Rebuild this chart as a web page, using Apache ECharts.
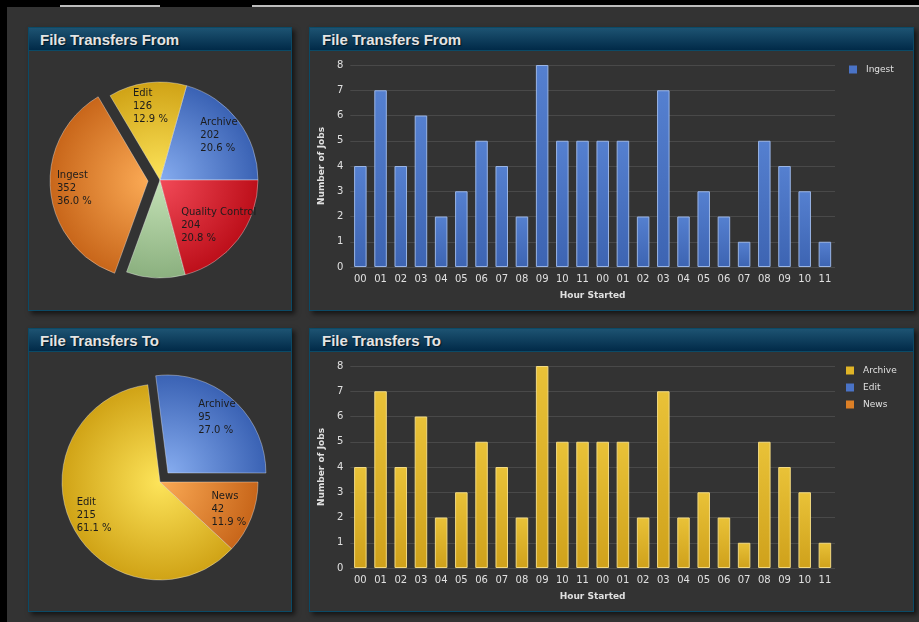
<!DOCTYPE html>
<html><head><meta charset="utf-8">
<script src="https://cdn.jsdelivr.net/npm/echarts@6/dist/echarts.min.js"></script>
<style>
html,body{margin:0;padding:0;background:#000;width:919px;height:622px;overflow:hidden;position:relative}
#bg{position:absolute;left:7px;top:7px;width:912px;height:615px;background:#333}
.strip{position:absolute;top:5px;height:2px;background:#bdbdbd}
.panel{position:absolute;border:1px solid #0b4a66;box-sizing:border-box;background:#333;box-shadow:3px 3px 5px rgba(0,0,0,0.6)}
.hdr{position:absolute;left:0;top:0;right:0;height:23px;background:linear-gradient(#1d5372,#012a48);border-bottom:1px solid #0b4a66;box-sizing:border-box;font:bold 15px 'Liberation Sans',Arial,sans-serif;color:#e4e4e4;line-height:23px;text-shadow:1px 1px 1px rgba(0,0,0,0.6)}
.chart{position:absolute}
</style></head>
<body>
<div id="bg"></div>
<div class="strip" style="left:60px;width:100px"></div>
<div class="strip" style="left:252px;width:667px"></div>

<div class="panel" style="left:28px;top:27px;width:264px;height:284px"><div class="hdr" style="padding-left:11px">File Transfers From</div></div>
<div class="panel" style="left:309px;top:27px;width:605px;height:284px"><div class="hdr" style="padding-left:12px">File Transfers From</div></div>
<div class="panel" style="left:28px;top:328px;width:264px;height:284px"><div class="hdr" style="padding-left:11px">File Transfers To</div></div>
<div class="panel" style="left:309px;top:328px;width:605px;height:284px"><div class="hdr" style="padding-left:12px">File Transfers To</div></div>

<div id="pie1" class="chart" style="left:28px;top:27px;width:264px;height:284px"></div>
<div id="bar1" class="chart" style="left:309px;top:27px;width:605px;height:284px"></div>
<div id="pie2" class="chart" style="left:28px;top:328px;width:264px;height:284px"></div>
<div id="bar2" class="chart" style="left:309px;top:328px;width:605px;height:284px"></div>

<script>
// ---- data ----
var hours = ['00','01','02','03','04','05','06','07','08','09','10','11','00','01','02','03','04','05','06','07','08','09','10','11'];
var yTicks = [0,1,2,3,4,5,6,7,8];
var fromNames = ['Archive','Edit','Ingest','Other','Quality Control'];
var fromValues = [202,126,352,95,204];
var toNames = ['Archive','Edit','News'];
var toValues = [95,215,42];
var ingestJobs = [4,7,4,6,2,3,5,4,2,8,5,5,5,5,2,7,2,3,2,1,5,4,3,1];
var archiveJobs = [4,7,4,6,2,3,5,4,2,8,5,5,5,5,2,7,2,3,2,1,5,4,3,1];
var editJobs = [];
var newsJobs = [];

// ---- styles ----
var FONT = 'DejaVu Sans';
var TXT = '#e0e0e0';
var pal = {
  blue:   ['#86acef','#3a62b4'],
  yellow: ['#fde45a','#d0a316'],
  orange: ['#fbaa55','#c8661a'],
  green:  ['#c4e2b6','#8bb07f'],
  red:    ['#f24a58','#bd0f1a']
};
var PIE_R = 98, PIE_CX = 132, OFFSET = 12, LABEL_RATIO = 0.755;

function radial(c, cx, cy){
  return {type:'radial', x:cx, y:cy, r:PIE_R, global:true,
    colorStops:[{offset:0,color:c[0]},{offset:1,color:c[1]}]};
}
function pieOption(names, values, colors, selectedIdx, hiddenIdx, cy){
  var total = values.reduce(function(a,b){return a+b;},0);
  var shapes = names.map(function(n,i){
    return {name:n, value:values[i], itemStyle:{color: radial(colors[i], PIE_CX, cy)}, selected: i===selectedIdx};
  });
  var labels = names.map(function(n,i){
    var d = {name:n, value:values[i]};
    if (hiddenIdx.indexOf(i)>=0) d.label = {show:false};
    return d;
  });
  return {
    animation:false,
    series:[{
      type:'pie', radius:PIE_R, center:[PIE_CX, cy],
      startAngle:0, clockwise:false,
      selectedMode:'single', selectedOffset:OFFSET,
      emphasis:{disabled:true}, select:{itemStyle:{borderColor:'rgba(255,255,255,0.35)',borderWidth:1}},
      itemStyle:{borderColor:'rgba(255,255,255,0.35)', borderWidth:1},
      label:{show:false}, labelLine:{show:false},
      data:shapes
    },{
      type:'pie', radius:PIE_R, center:[PIE_CX, cy], silent:true,
      startAngle:0, clockwise:false, selectedMode:false,
      emphasis:{disabled:true},
      itemStyle:{color:'rgba(0,0,0,0)', borderWidth:0},
      label:{show:true, position:'inside', color:'#1c1c1c', fontFamily:FONT, fontSize:10, lineHeight:13,
        formatter:function(p){ return p.name + '\n' + p.value + '\n' + (p.value/total*100).toFixed(1) + ' %'; }},
      labelLine:{show:false},
      labelLayout:function(p){
        var i = p.dataIndex, before = 0;
        for (var j=0;j<i;j++) before += values[j];
        var mid = (before + values[i]/2) / total * Math.PI * 2;
        var r = LABEL_RATIO*PIE_R + (i===selectedIdx ? OFFSET : 0);
        var nx = PIE_CX + r*Math.cos(mid), ny = cy - r*Math.sin(mid);
        return {x: nx - p.labelRect.width/2, y: ny, align:'left', verticalAlign:'middle'};
      },
      data:labels
    }]
  };
}

function barColor(c){
  return {type:'linear', x:0,y:0,x2:0,y2:1, colorStops:[{offset:0,color:c[0]},{offset:1,color:c[1]}]};
}
var blueBar = ['#5580d0','#3d64b2'];
var yellowBar = ['#e9c238','#cfa11b'];

function barOption(seriesList, legendLeft){
  return {
    animation:false,
    grid:{left:36, right:79, top:38, bottom:44},
    legend:{orient:'vertical', left:legendLeft, top:38, padding:0, itemWidth:8, itemHeight:8, itemGap:8, icon:'rect',
      textStyle:{color:TXT, fontFamily:FONT, fontSize:9, padding:[0,0,0,4]},
      data: seriesList.map(function(s){return {name:s.name, itemStyle:{color:s.legendColor, borderWidth:0}};})},
    xAxis:{type:'category', data:hours, axisTick:{show:false}, axisLine:{show:false},
      axisLabel:{color:TXT, fontFamily:FONT, fontSize:10, margin:7, interval:0},
      name:'Hour Started', nameLocation:'middle', nameGap:24,
      nameTextStyle:{color:TXT, fontFamily:FONT, fontSize:9, fontWeight:'bold'}},
    yAxis:{type:'value', min:yTicks[0], max:yTicks[yTicks.length-1], interval:1,
      axisLine:{show:false}, axisTick:{show:false},
      splitLine:{lineStyle:{color:'#494949'}},
      axisLabel:{color:TXT, fontFamily:FONT, fontSize:10, margin:7},
      name:'Number of Jobs', nameLocation:'middle', nameGap:19,
      nameTextStyle:{color:TXT, fontFamily:FONT, fontSize:9, fontWeight:'bold'}},
    series: seriesList.map(function(s){
      return {type:'bar', name:s.name, data:s.data, stack:'all', barWidth:'62%',
        itemStyle:{color:barColor(s.colors), borderColor:s.border, borderWidth:1}};
    })
  };
}

echarts.init(document.getElementById('pie1')).setOption(
  pieOption(fromNames, fromValues, [pal.blue, pal.yellow, pal.orange, pal.green, pal.red], 2, [3], 153));
echarts.init(document.getElementById('pie2')).setOption(
  pieOption(toNames, toValues, [pal.blue, pal.yellow, pal.orange], 0, [], 154));

echarts.init(document.getElementById('bar1')).setOption(barOption([
  {name:'Ingest', data:ingestJobs, colors:blueBar, border:'#9ab5e6', legendColor:'#4a73c6'}
], 540));
echarts.init(document.getElementById('bar2')).setOption(barOption([
  {name:'Archive', data:archiveJobs, colors:yellowBar, border:'#f2da82', legendColor:'#e0b527'},
  {name:'Edit', data:editJobs, colors:blueBar, border:'#9ab5e6', legendColor:'#4a73c6'},
  {name:'News', data:newsJobs, colors:['#e8902e','#cc6c1c'], border:'#f0b070', legendColor:'#dc7f26'}
], 537));
</script>
</body></html>
